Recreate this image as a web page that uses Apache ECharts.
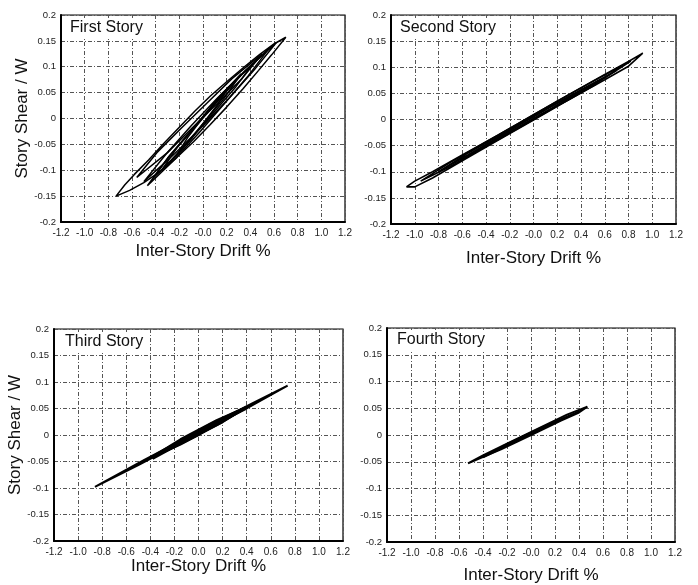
<!DOCTYPE html>
<html style="height: 100%">
    <head>
        <meta charset="utf-8">
    </head>
    <body style="height: 100%; margin: 0; background: #fff">
        <div id="container" style="width: 698px; height: 585px"></div>

        <script type="text/javascript" src="https://cdn.jsdelivr.net/npm/echarts@6/dist/echarts.min.js"></script>

        <script type="text/javascript">
// tick labels (as printed on the figure)
var xTickLabels = ['-1.2', '-1.0', '-0.8', '-0.6', '-0.4', '-0.2', '-0.0', '0.2', '0.4', '0.6', '0.8', '1.0', '1.2'];
var yTickLabels = ['-0.2', '-0.15', '-0.1', '-0.05', '0', '0.05', '0.1', '0.15', '0.2'];
var storyNames = ['First Story', 'Second Story', 'Third Story', 'Fourth Story'];

// hysteresis loops, [drift %, shear / W]
var story1Loops = [
    [[-0.735, -0.150], [-0.62, -0.139], [-0.50, -0.124], [-0.36, -0.102], [-0.22, -0.075], [-0.08, -0.045], [0.06, -0.012], [0.20, 0.022], [0.34, 0.058], [0.47, 0.093], [0.58, 0.123], [0.70, 0.157],
     [0.60, 0.144], [0.48, 0.124], [0.35, 0.100], [0.20, 0.071], [0.06, 0.043], [-0.07, 0.014], [-0.20, -0.017], [-0.33, -0.048], [-0.46, -0.080], [-0.58, -0.108], [-0.66, -0.128], [-0.735, -0.150]],
    [[-0.50, -0.122], [-0.24, -0.068], [0.00, -0.014], [0.22, 0.039], [0.43, 0.093], [0.62, 0.147],
     [0.36, 0.093], [0.12, 0.039], [-0.10, -0.014], [-0.31, -0.068], [-0.50, -0.122]],
    [[-0.47, -0.130], [-0.23, -0.077], [-0.02, -0.024], [0.185, 0.030], [0.385, 0.083], [0.56, 0.136],
     [0.32, 0.083], [0.11, 0.030], [-0.095, -0.024], [-0.30, -0.077], [-0.47, -0.130]],
    [[-0.56, -0.114], [-0.30, -0.066], [-0.09, -0.018], [0.12, 0.029], [0.33, 0.077], [0.50, 0.125],
     [0.245, 0.077], [0.03, 0.029], [-0.18, -0.018], [-0.39, -0.066], [-0.56, -0.114]],
    [[-0.42, -0.115], [-0.22, -0.071], [-0.055, -0.027], [0.115, 0.018], [0.28, 0.062], [0.42, 0.106],
     [0.225, 0.062], [0.055, 0.018], [-0.115, -0.027], [-0.28, -0.071], [-0.42, -0.115]],
    [[-0.35, -0.100], [-0.16, -0.0535], [0.01, -0.007], [0.18, 0.0395], [0.32, 0.086],
     [0.13, 0.0395], [-0.04, -0.007], [-0.21, -0.0535], [-0.35, -0.100]],
    [[-0.22, -0.070], [-0.09, -0.037], [0.02, -0.004], [0.13, 0.029], [0.22, 0.062],
     [0.09, 0.029], [-0.02, -0.004], [-0.13, -0.037], [-0.22, -0.070]]
];

var story2Loops = [
    [[-1.07, -0.129], [-1.00, -0.129], [-0.85, -0.112], [-0.60, -0.079], [-0.30, -0.040], [0.00, -0.001], [0.30, 0.038], [0.60, 0.076], [0.80, 0.102], [0.92, 0.127],
     [0.80, 0.111], [0.60, 0.086], [0.30, 0.048], [0.00, 0.009], [-0.30, -0.030], [-0.60, -0.068], [-0.85, -0.100], [-1.00, -0.118], [-1.07, -0.129]],
    [[-0.95, -0.118], [-0.70, -0.090], [-0.40, -0.051], [-0.10, -0.012], [0.20, 0.027], [0.50, 0.065], [0.82, 0.112],
     [0.50, 0.073], [0.20, 0.035], [-0.10, -0.004], [-0.40, -0.043], [-0.70, -0.082], [-0.95, -0.118]],
    [[-0.80, -0.100], [-0.55, -0.068], [-0.25, -0.030], [0.05, 0.008], [0.30, 0.038], [0.53, 0.068],
     [0.30, 0.044], [0.05, 0.013], [-0.25, -0.026], [-0.55, -0.064], [-0.80, -0.100]],
    [[-0.62, -0.078], [-0.30, -0.039], [0.00, 0.000], [0.30, 0.039], [0.70, 0.094],
     [0.40, 0.057], [0.10, 0.018], [-0.20, -0.021], [-0.62, -0.078]],
    [[-0.45, -0.056], [-0.15, -0.018], [0.15, 0.021], [0.45, 0.062],
     [0.15, 0.026], [-0.15, -0.013], [-0.45, -0.056]]
];

var story3Loops = [
    [[-0.86, -0.098], [-0.50, -0.057], [-0.20, -0.021], [0.10, 0.015], [0.40, 0.050], [0.74, 0.093],
     [0.45, 0.060], [0.15, 0.025], [-0.15, -0.011], [-0.45, -0.047], [-0.86, -0.098]],
    [[-0.42, -0.046], [-0.15, -0.018], [0.15, 0.018], [0.45, 0.058],
     [0.15, 0.028], [-0.15, -0.008], [-0.42, -0.046]],
    [[-0.38, -0.045], [-0.05, -0.004], [0.20, 0.024], [0.40, 0.053],
     [0.10, 0.021], [-0.15, -0.010], [-0.38, -0.045]],
    [[-0.25, -0.028], [0.00, 0.000], [0.30, 0.041],
     [0.05, 0.015], [-0.25, -0.028]]
];

var story4Loops = [
    [[-0.525, -0.053], [-0.25, -0.027], [0.00, 0.000], [0.25, 0.027], [0.40, 0.042], [0.47, 0.053],
     [0.30, 0.038], [0.05, 0.011], [-0.20, -0.016], [-0.40, -0.038], [-0.525, -0.053]],
    [[-0.40, -0.042], [-0.10, -0.008], [0.20, 0.023], [0.40, 0.044],
     [0.10, 0.015], [-0.20, -0.017], [-0.40, -0.042]]
];

var allLoops = [story1Loops, story2Loops, story3Loops, story4Loops];
var lineWidths = [1.5, 1.6, 2, 2];

var dom = document.getElementById("container");
var myChart = echarts.init(dom, null, {renderer: 'canvas'});

var grids = [
    {left: 61, top: 15, width: 284, height: 207},
    {left: 391, top: 15, width: 285, height: 209},
    {left: 54, top: 329, width: 289, height: 212},
    {left: 387, top: 328, width: 288, height: 215}
];
var xNameGaps = [21, 26, 17, 25];
var yNameGaps = [30, 0, 24, 0];
var titlePos = [[66, 18], [396, 18], [61, 332], [393, 330]];

var font = 'Liberation Sans';
var xAxes = [], yAxes = [], series = [], titles = [];

grids.forEach(function (g, i) {
    g.show = true;
    g.borderColor = '#000';
    g.borderWidth = 1.2;
    g.backgroundColor = '#fff';
    xAxes.push({
        type: 'value', gridIndex: i, min: -1.2, max: 1.2, interval: 0.2,
        name: 'Inter-Story Drift %', nameLocation: 'middle', nameGap: xNameGaps[i],
        nameTextStyle: {fontFamily: font, fontSize: 17, color: '#111'},
        axisLine: {show: true, onZero: false, lineStyle: {color: '#000', width: 2}},
        axisTick: {show: false},
        axisLabel: {
            fontFamily: font, fontSize: 10, color: '#222', margin: 6,
            formatter: function (v) {
                var k = Math.round((v + 1.2) / 0.2);
                if (k === 6 && i === 2) return '0.0';
                return xTickLabels[k];
            }
        },
        splitLine: {show: true, lineStyle: {color: '#555', width: 1, type: [4, 2, 1, 2]}}
    });
    yAxes.push({
        type: 'value', gridIndex: i, min: -0.2, max: 0.2, interval: 0.05,
        name: (i === 0 || i === 2) ? 'Story Shear / W' : '',
        nameLocation: 'middle', nameGap: yNameGaps[i], nameRotate: 90,
        nameTextStyle: {fontFamily: font, fontSize: 17, color: '#111'},
        axisLine: {show: true, onZero: false, lineStyle: {color: '#000', width: 2}},
        axisTick: {show: false},
        axisLabel: {
            fontFamily: font, fontSize: 9.5, color: '#222', margin: 5,
            formatter: function (v) {
                return yTickLabels[Math.round((v + 0.2) / 0.05)];
            }
        },
        splitLine: {show: true, lineStyle: {color: '#555', width: 1, type: [4, 2, 1, 2]}}
    });
    titles.push({
        text: storyNames[i], left: titlePos[i][0], top: titlePos[i][1],
        backgroundColor: '#fff', padding: [2, 4],
        textStyle: {fontFamily: font, fontSize: 16, fontWeight: 'normal', color: '#111'}
    });
    allLoops[i].forEach(function (loop) {
        series.push({
            type: 'line', xAxisIndex: i, yAxisIndex: i,
            data: loop, showSymbol: false, silent: true,
            lineStyle: {color: '#000', width: lineWidths[i]},
            z: 3
        });
    });
});

var option = {
    backgroundColor: '#fff',
    animation: false,
    title: titles,
    grid: grids,
    xAxis: xAxes,
    yAxis: yAxes,
    series: series
};

myChart.setOption(option);
        </script>
    </body>
</html>
